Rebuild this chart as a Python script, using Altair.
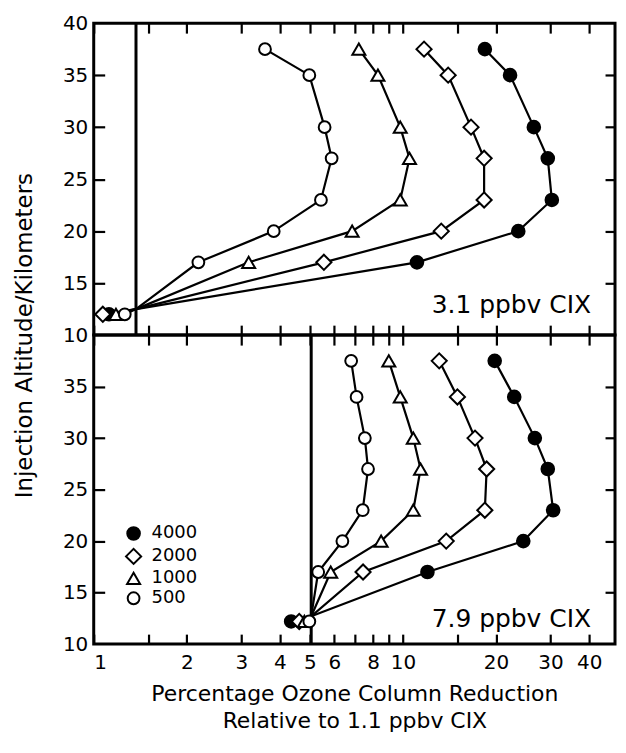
import altair as alt
import pandas as pd

FONT = "DejaVu Sans"

# ---------------- data ----------------
concs = ["4000", "2000", "1000", "500"]
shapes = ["circle", "diamond", "triangle-up", "circle"]
fills = ["black", "white", "white", "white"]
strokes = ["black", "black", "black", "black"]
sizes = [160, 230, 170, 140]

# top panel: 3.1 ppbv ClX
alt_top = [37.5, 35, 30, 27, 23, 20, 17, 12]
top_4000 = [18.4, 22.2, 26.5, 29.4, 30.3, 23.6, 11.1, 1.12]
top_2000 = [11.7, 14.0, 16.6, 18.3, 18.3, 13.3, 5.55, 1.07]
top_1000 = [7.2, 8.3, 9.8, 10.5, 9.8, 6.85, 3.17, 1.18]
top_500 = [3.58, 4.98, 5.58, 5.88, 5.43, 3.82, 2.18, 1.26]
top_ref_x = 1.37      # vertical reference line
top_meet_y = 12.5     # where the curves meet the reference line

# bottom panel: 7.9 ppbv ClX
alt_bot = [37.5, 34, 30, 27, 23, 20, 17, 12.2]
bot_4000 = [19.8, 22.9, 26.7, 29.4, 30.6, 24.5, 12.0, 4.35]
bot_2000 = [13.1, 15.0, 17.1, 18.65, 18.4, 13.8, 7.43, 4.62]
bot_1000 = [9.0, 9.8, 10.8, 11.4, 10.8, 8.5, 5.84, 4.8]
bot_500 = [6.8, 7.08, 7.53, 7.71, 7.41, 6.37, 5.32, 4.98]
bot_ref_x = 5.05
bot_meet_y = 12.7

x_label_vals = [1, 2, 3, 4, 5, 6, 8, 10, 20, 30, 40]
x_tick_vals = [1, 1.5, 2, 3, 4, 5, 6, 7, 8, 9, 10, 15, 20, 30, 40]
y_tick_vals = [15, 20, 25, 30, 35]
top_y_labels = [10, 15, 20, 25, 30, 35, 40]
bot_y_labels = [10, 15, 20, 25, 30, 35]

W = 523
H_TOP = 313
H_BOT = 310
X_DOMAIN = [1, 48.5]
Y_DOMAIN = [10, 40]


def frames(alts, series, ref_x, meet_y):
    lrows, prows = [], []
    for c, vals in zip(concs, series):
        order = 0
        for i in range(len(alts) - 1):
            lrows.append({"c": c, "x": vals[i], "y": alts[i], "o": order})
            order += 1
        lrows.append({"c": c, "x": ref_x, "y": meet_y, "o": order})
        order += 1
        lrows.append({"c": c, "x": vals[-1], "y": alts[-1], "o": order})
        for v, a in zip(vals, alts):
            prows.append({"c": c, "x": v, "y": a})
    return pd.DataFrame(lrows), pd.DataFrame(prows)


def tick_axis(orient, values, size):
    return alt.Axis(orient=orient, values=values, labels=False, domain=False,
                    grid=False, ticks=True, tickSize=size, tickWidth=2.2,
                    tickColor="black", offset=-size, title=None)


def panel(alts, series, ref_x, meet_y, note, note_dy, height, y_labels,
          bottom):
    dl, dp = frames(alts, series, ref_x, meet_y)
    xs = alt.Scale(type="log", domain=X_DOMAIN, nice=False)
    ys = alt.Scale(domain=Y_DOMAIN, nice=False, zero=False)

    if bottom:
        x_lab = alt.Axis(orient="bottom", values=x_label_vals, ticks=False,
                         domain=False, grid=False, format="~g",
                         labelFontSize=20, labelFont=FONT, labelColor="black",
                         labelPadding=8,
                         title=["Percentage Ozone Column Reduction",
                                "Relative to 1.1 ppbv CIX"],
                         titleFont=FONT, titleFontSize=22,
                         titleFontWeight="normal", titleColor="black",
                         titlePadding=12, titleLineHeight=27)
        y_lab = alt.Axis(orient="left", values=y_labels, ticks=False,
                         domain=False, grid=False, format="d",
                         labelFontSize=20, labelFont=FONT, labelColor="black",
                         labelPadding=6, title=None)
        legend = alt.Legend(orient="none", legendX=31, legendY=190, title=None,
                            labelFontSize=18, labelFont=FONT,
                            labelColor="black", symbolStrokeWidth=2,
                            symbolStrokeColor="black", labelOffset=9,
                            rowPadding=0, padding=0,
                            labelExpr="datum.label == '500' ? '\u2007500' : datum.label")
    else:
        x_lab = None
        y_lab = alt.Axis(orient="left", values=y_labels, ticks=False,
                         domain=False, grid=False, format="d",
                         labelFontSize=20, labelFont=FONT, labelColor="black",
                         labelPadding=6,
                         title="Injection Altitude/Kilometers",
                         titleFont=FONT, titleFontSize=23,
                         titleFontWeight="normal", titleColor="black",
                         titleAngle=270, titleAlign="center",
                         titleBaseline="middle", titleX=-69, titleY=height)
        legend = None

    cscale = dict(domain=concs)
    lines = alt.Chart(dl).mark_line(color="black", strokeWidth=2.2).encode(
        x=alt.X("x:Q", scale=xs, axis=x_lab),
        y=alt.Y("y:Q", scale=ys, axis=y_lab),
        detail="c:N",
        order="o:Q",
    )
    pts = alt.Chart(dp).mark_point(filled=True, strokeWidth=2,
                                   opacity=1).encode(
        x=alt.X("x:Q", scale=xs, axis=tick_axis("bottom", x_tick_vals, 10)),
        y=alt.Y("y:Q", scale=ys, axis=tick_axis("left", y_tick_vals, 11)),
        shape=alt.Shape("c:N", scale=alt.Scale(range=shapes, **cscale),
                        legend=legend),
        fill=alt.Fill("c:N", scale=alt.Scale(range=fills, **cscale),
                      legend=legend),
        stroke=alt.Stroke("c:N", scale=alt.Scale(range=strokes, **cscale),
                          legend=legend),
        size=alt.Size("c:N", scale=alt.Scale(type="ordinal", range=sizes,
                                             **cscale),
                      legend=legend),
    )
    ghost = alt.Chart(dp).mark_point(opacity=0).encode(
        x=alt.X("x:Q", scale=xs, axis=tick_axis("top", x_tick_vals, 10)),
        y=alt.Y("y:Q", scale=ys, axis=tick_axis("right", y_tick_vals, 10)),
    )
    rule = alt.Chart(pd.DataFrame({"v": [ref_x]})).mark_rule(
        color="black", strokeWidth=3).encode(
        x=alt.X("v:Q", scale=xs, axis=None))
    text = alt.Chart(pd.DataFrame({"t": [note]})).mark_text(
        align="right", baseline="middle", fontSize=25, font=FONT,
        color="black").encode(
        x=alt.value(W - 24), y=alt.value(height - note_dy), text="t:N")

    return alt.layer(rule, lines, pts, ghost, text).resolve_axis(
        x="independent", y="independent").properties(width=W, height=height)


top = panel(alt_top, [top_4000, top_2000, top_1000, top_500],
            top_ref_x, top_meet_y, "3.1 ppbv CIX", 30, H_TOP, top_y_labels,
            False)
bot = panel(alt_bot, [bot_4000, bot_2000, bot_1000, bot_500],
            bot_ref_x, bot_meet_y, "7.9 ppbv CIX", 25, H_BOT, bot_y_labels,
            True)

chart = alt.vconcat(top, bot, spacing=0, bounds="flush").resolve_scale(
    shape="independent", fill="independent", size="independent",
    stroke="independent"
).properties(
    padding={"left": 4, "top": 2, "right": 0, "bottom": 0}
).configure(
    background="white",
    view=alt.ViewConfig(stroke="black", strokeWidth=3),
)

chart.save("out.html", embed_options={"renderer": "svg", "actions": False})
